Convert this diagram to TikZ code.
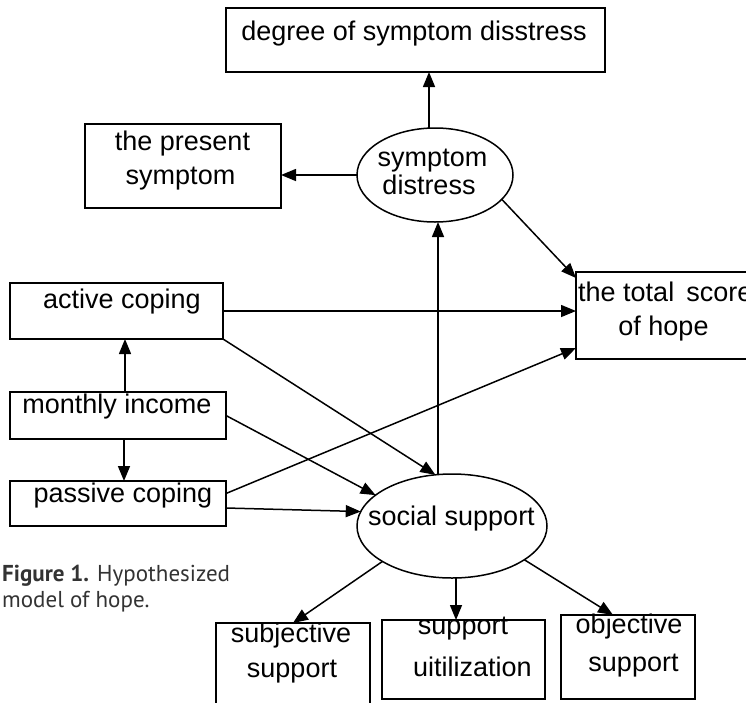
\documentclass[tikz,border=0pt]{standalone}
\usepackage{fontspec}
\setmainfont{Liberation Sans}
\newfontfamily\capfont{PT Sans}
\usetikzlibrary{arrows.meta,shapes.geometric}
\begin{document}
\begin{tikzpicture}[x=1pt,y=-1pt]
\tikzset{
 box/.style={draw, line width=1.5pt, rectangle, inner sep=0pt, outer sep=0pt},
 oval/.style={draw, ellipse, line width=1.5pt, inner sep=0pt, outer sep=0pt},
 lbl/.style={inner sep=0pt, anchor=base, font=\fontsize{27}{30}\selectfont},
 captxt/.style={inner sep=0pt, anchor=base west, text=black!80, font=\capfont\fontsize{23}{26}\selectfont},
 arr/.style={line width=1.5pt, -{Triangle[length=15pt,width=12pt]}},
}
\clip (0,0) rectangle (746,702);
\fill[white] (0,0) rectangle (746,702);

\node[box, minimum width=379pt, minimum height=64pt] (deg) at (415.5,40) {};
\node[lbl] (degT) at (414,40) {degree of symptom disstress};
\node[box, minimum width=196pt, minimum height=84pt] (ps) at (183,166) {};
\node[lbl] (psT1) at (182.5,150) {the present};
\node[lbl] (psT2) at (180.5,184) {symptom};
\node[oval, minimum width=156pt, minimum height=94pt] (sd) at (435,175) {};
\node[lbl] (sdT1) at (432.5,166) {symptom};
\node[lbl] (sdT2) at (429,194) {distress};
\node[box, minimum width=213pt, minimum height=56pt] (ac) at (116.5,311) {};
\node[lbl] (acT) at (122,308) {active coping};
\node[box, minimum width=184pt, minimum height=87pt] (ts) at (668,315.5) {};
\node[lbl, anchor=base west] (tsT1) at (578,301) {the total\, score};
\node[lbl] (tsT2) at (663.5,335) {of hope};
\node[box, minimum width=216pt, minimum height=47pt] (mi) at (118,415.5) {};
\node[lbl] (miT) at (117,413) {monthly income};
\node[box, minimum width=216pt, minimum height=45pt] (pc) at (118,503.5) {};
\node[lbl] (pcT) at (123,502) {passive coping};
\node[oval, minimum width=190pt, minimum height=104pt] (ss) at (452,526) {};
\node[lbl] (ssT) at (451.5,525) {social support};
\node[box, minimum width=154pt, minimum height=97pt] (subj) at (293,671.5) {};
\node[lbl] (subjT1) at (291,642) {subjective};
\node[lbl] (subjT2) at (292,677) {support};
\node[box, minimum width=163pt, minimum height=79pt] (util) at (463.5,659.5) {};
\node[lbl] (utilT1) at (463,634) {support};
\node[lbl] (utilT2) at (472.5,676) {uitilization};
\node[box, minimum width=134pt, minimum height=84pt] (obj) at (628,657) {};
\node[lbl] (objT1) at (629,633) {objective};
\node[lbl] (objT2) at (633.5,671) {support};

\node[captxt] (cap1) at (2,581) {\textbf{Figure 1.} Hypothesized};
\node[captxt] (cap2) at (2,607) {model of hope.};

\draw[arr] ([xshift=-6pt]sd.north) -- ([xshift=-6pt]sd.north |- deg.south);
\draw[arr] (sd.west) -- (sd.west -| ps.east);
\draw[arr] (sd.-20) -- ([yshift=-6pt]ts.north west);
\draw[arr] (ac.east) -- (ac.east -| ts.west);
\draw[arr] (ac.south east) -- (ss.108);
\draw[arr] (mi.east) -- (ss.158);
\draw[arr] ([xshift=7pt]mi.north) -- ([xshift=7pt]mi.north |- ac.south);
\draw[arr] ([xshift=6pt]mi.south) -- ([xshift=6pt]mi.south |- pc.north);
\draw[arr] ([yshift=10pt]pc.east) -- ([yshift=11pt]ts.south west);
\draw[arr] ([yshift=-4.5pt]pc.east) -- (ss.171);
\draw[arr] ([xshift=3pt]sd.south |- ss.north) -- ([xshift=3pt]sd.south);
\draw[arr] (ss.207) -- (subj.north);
\draw[arr] ([xshift=4pt]ss.south) -- ([xshift=4pt]ss.south |- util.north);
\draw[arr] (ss.-25) -- ([xshift=-15pt]obj.north);
\end{tikzpicture}
\end{document}
